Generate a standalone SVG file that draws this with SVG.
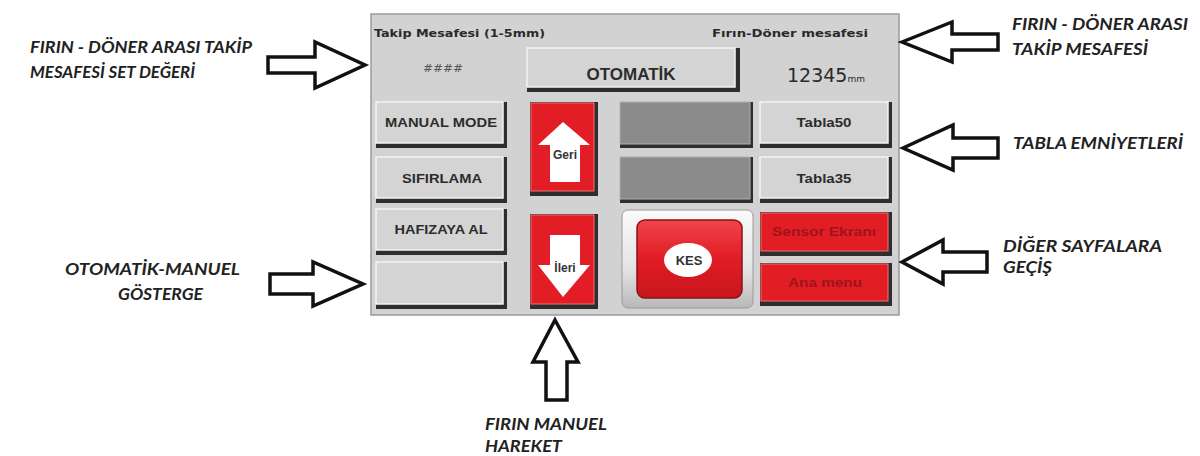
<svg xmlns="http://www.w3.org/2000/svg" width="1200" height="456" viewBox="0 0 1200 456">
  <style>
    .lbl { font-family: Lato, "Liberation Sans", Arial, sans-serif; font-weight: bold; font-style: italic; font-size: 17px; fill: #222; }
    .arrow { fill: #fff; stroke: #111; stroke-width: 3.5; stroke-linejoin: miter; }
    .panel-txt { font-family: "DejaVu Sans", sans-serif; font-size: 11px; fill: #2a2a2a; font-weight: bold; }
    .btn-shadow { fill: #2e2e2e; }
    .btn-face { fill: #d4d4d4; stroke: #f4f4f4; stroke-width: 1.5; }
    .btn-txt { font-family: "Liberation Sans", Arial, sans-serif; font-weight: bold; font-size: 13px; fill: #2c2c2c; text-anchor: middle; }
    .gray-face { fill: #8b8b8b; stroke: #b0b0b0; stroke-width: 1; }
    .red-face { fill: #e31d25; stroke: #f07070; stroke-width: 1; }
    .red-txt { font-family: "Liberation Sans", Arial, sans-serif; font-weight: bold; font-size: 12px; fill: #9c1519; text-anchor: middle; }
  </style>
  <defs>
    <linearGradient id="kesFrame" x1="0" y1="0" x2="0" y2="1">
      <stop offset="0" stop-color="#fafafa"/>
      <stop offset="0.6" stop-color="#e4e4e4"/>
      <stop offset="1" stop-color="#b8b8b8"/>
    </linearGradient>
    <linearGradient id="kesRed" x1="0" y1="0" x2="0" y2="1">
      <stop offset="0" stop-color="#f0444a"/>
      <stop offset="0.5" stop-color="#e01c24"/>
      <stop offset="1" stop-color="#c8161d"/>
    </linearGradient>
  </defs>

  <rect width="1200" height="456" fill="#fff"/>

  <!-- HMI panel -->
  <g id="panel">
    <rect x="371" y="14" width="528" height="301" fill="#d2d2d2" stroke="#9a9a9a" stroke-width="1.5"/>
    <text class="panel-txt" x="374" y="37" textLength="171" lengthAdjust="spacingAndGlyphs">Takip Mesafesi (1-5mm)</text>
    <text class="panel-txt" x="868" y="37" text-anchor="end" textLength="156" lengthAdjust="spacingAndGlyphs">Fırın-Döner mesafesi</text>
    <text x="423" y="72" font-family="DejaVu Sans, sans-serif" font-size="11" font-style="italic" fill="#555" textLength="40" lengthAdjust="spacingAndGlyphs">####</text>
    <text x="787" y="82" font-family="DejaVu Sans, sans-serif" font-size="19" fill="#2a2a2a">12345<tspan font-size="9">mm</tspan></text>
  </g>

  <g id="btn-otomatik">
    <rect class="btn-shadow" x="527" y="48" width="213" height="44"/>
    <rect class="btn-face" x="527" y="48" width="208" height="39"/>
    <text class="btn-txt" x="631" y="80" style="font-size:17px">OTOMATİK</text>
  </g>

  <g id="btn-manual-mode">
    <rect class="btn-shadow" x="376" y="102" width="131" height="46"/>
    <rect class="btn-face" x="376" y="102" width="127" height="41"/>
    <text class="btn-txt" x="441" y="127" textLength="112" lengthAdjust="spacingAndGlyphs">MANUAL MODE</text>
  </g>
  <g id="btn-sifirlama">
    <rect class="btn-shadow" x="376" y="157" width="131" height="46"/>
    <rect class="btn-face" x="376" y="157" width="127" height="41"/>
    <text class="btn-txt" x="442" y="183" textLength="80" lengthAdjust="spacingAndGlyphs">SIFIRLAMA</text>
  </g>
  <g id="btn-hafizaya-al">
    <rect class="btn-shadow" x="376" y="209" width="131" height="46"/>
    <rect class="btn-face" x="376" y="209" width="127" height="41"/>
    <text class="btn-txt" x="441" y="234" textLength="93" lengthAdjust="spacingAndGlyphs">HAFIZAYA AL</text>
  </g>
  <g id="ind-otomatik-manuel">
    <rect class="btn-shadow" x="376" y="262" width="131" height="47"/>
    <rect class="btn-face" x="376" y="262" width="127" height="42"/>
  </g>

  <g id="btn-geri">
    <rect class="btn-shadow" x="530" y="102" width="68" height="94"/>
    <rect class="red-face" x="531" y="103" width="63" height="88"/>
    <path d="M563,122 L590,145 L580,145 L580,182 L550,182 L550,145 L538,145 Z" fill="#fff"/>
    <text class="btn-txt" x="565" y="159" style="font-size:12px;fill:#333">Geri</text>
  </g>
  <g id="btn-ileri">
    <rect class="btn-shadow" x="530" y="214" width="68" height="95"/>
    <rect class="red-face" x="531" y="215" width="63" height="89"/>
    <path d="M550,235 L580,235 L580,265 L590,265 L563,297 L538,265 L550,265 Z" fill="#fff"/>
    <text class="btn-txt" x="565" y="272" style="font-size:12px;fill:#333">İleri</text>
  </g>

  <g id="ind-tabla50">
    <rect class="btn-shadow" x="620" y="102" width="133" height="46"/>
    <rect class="gray-face" x="620" y="102" width="130" height="42"/>
  </g>
  <g id="btn-tabla50">
    <rect class="btn-shadow" x="760" y="102" width="132" height="46"/>
    <rect class="btn-face" x="760" y="102" width="128" height="41"/>
    <text class="btn-txt" x="824" y="127" style="font-size:12px" textLength="55" lengthAdjust="spacingAndGlyphs">Tabla50</text>
  </g>
  <g id="ind-tabla35">
    <rect class="btn-shadow" x="620" y="157" width="133" height="46"/>
    <rect class="gray-face" x="620" y="157" width="130" height="42"/>
  </g>
  <g id="btn-tabla35">
    <rect class="btn-shadow" x="760" y="157" width="132" height="46"/>
    <rect class="btn-face" x="760" y="157" width="128" height="41"/>
    <text class="btn-txt" x="824" y="183" style="font-size:12px" textLength="55" lengthAdjust="spacingAndGlyphs">Tabla35</text>
  </g>

  <g id="btn-kes">
    <rect x="622" y="210" width="131" height="98" rx="6" fill="url(#kesFrame)" stroke="#9a9a9a" stroke-width="1"/>
    <rect x="637" y="220" width="105" height="78" rx="8" fill="url(#kesRed)" stroke="#8a1015" stroke-width="1.5"/>
    <ellipse cx="688" cy="260" rx="24" ry="17" fill="#fff"/>
    <text class="btn-txt" x="689" y="265" style="font-size:13px;fill:#333">KES</text>
  </g>

  <g id="btn-sensor-ekrani">
    <rect class="btn-shadow" x="760" y="212" width="132" height="44"/>
    <rect class="red-face" x="761" y="213" width="127" height="38"/>
    <text class="red-txt" x="824" y="236" textLength="104" lengthAdjust="spacingAndGlyphs">Sensor Ekranı</text>
  </g>
  <g id="btn-ana-menu">
    <rect class="btn-shadow" x="760" y="263" width="132" height="43"/>
    <rect class="red-face" x="761" y="264" width="127" height="37"/>
    <text class="red-txt" x="825" y="287" textLength="74" lengthAdjust="spacingAndGlyphs">Ana menu</text>
  </g>

  <!-- callout arrows -->
  <g id="connectors">
    <path class="arrow" d="M268,57 L315,57 L315,42 L365,65 L315,88 L315,73 L268,73 Z"/>
    <path class="arrow" d="M902,42 L952,22 L952,34 L998,34 L998,50 L952,50 L952,62 Z"/>
    <path class="arrow" d="M903,148 L953,125 L953,138 L998,138 L998,158 L953,158 L953,170 Z"/>
    <path class="arrow" d="M902,262 L943,240 L943,252 L987,252 L987,272 L943,272 L943,284 Z"/>
    <path class="arrow" d="M270,274 L313,274 L313,262 L363,284 L313,306 L313,294 L270,294 Z"/>
    <path class="arrow" d="M555,320 L578,362 L567,362 L567,400 L546,400 L546,362 L533,362 Z"/>
  </g>

  <!-- callout labels -->
  <g id="label-set-degeri">
    <text class="lbl" x="30" y="53" textLength="222" lengthAdjust="spacingAndGlyphs">FIRIN - DÖNER ARASI TAKİP</text>
    <text class="lbl" x="30" y="78" textLength="165" lengthAdjust="spacingAndGlyphs">MESAFESİ SET DEĞERİ</text>
  </g>
  <g id="label-takip-mesafesi">
    <text class="lbl" x="1012" y="30" textLength="176" lengthAdjust="spacingAndGlyphs">FIRIN - DÖNER ARASI</text>
    <text class="lbl" x="1012" y="55" textLength="136" lengthAdjust="spacingAndGlyphs">TAKİP MESAFESİ</text>
  </g>
  <g id="label-tabla">
    <text class="lbl" x="1013" y="149" textLength="170" lengthAdjust="spacingAndGlyphs">TABLA EMNİYETLERİ</text>
  </g>
  <g id="label-diger">
    <text class="lbl" x="1003" y="252" textLength="159" lengthAdjust="spacingAndGlyphs">DİĞER SAYFALARA</text>
    <text class="lbl" x="1003" y="273" textLength="49" lengthAdjust="spacingAndGlyphs">GEÇİŞ</text>
  </g>
  <g id="label-gosterge">
    <text class="lbl" x="65" y="275" textLength="175" lengthAdjust="spacingAndGlyphs">OTOMATİK-MANUEL</text>
    <text class="lbl" x="118" y="300" textLength="85" lengthAdjust="spacingAndGlyphs">GÖSTERGE</text>
  </g>
  <g id="label-manuel-hareket">
    <text class="lbl" x="485" y="430" textLength="122" lengthAdjust="spacingAndGlyphs">FIRIN MANUEL</text>
    <text class="lbl" x="485" y="452" textLength="77" lengthAdjust="spacingAndGlyphs">HAREKET</text>
  </g>
</svg>
